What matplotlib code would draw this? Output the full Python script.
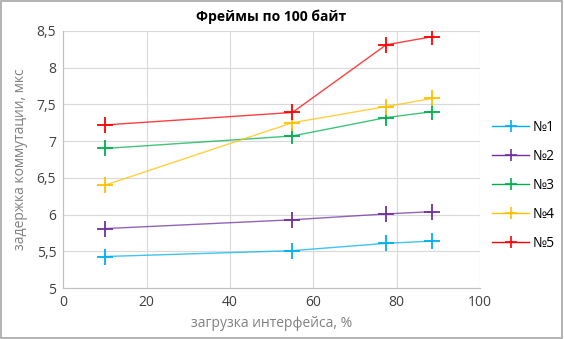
import matplotlib.pyplot as plt
from matplotlib.patches import Rectangle

plt.rcParams['font.family'] = ['Open Sans', 'DejaVu Sans']

load = [10, 55, 77.5, 88.5]
series_names = ['№1', '№2', '№3', '№4', '№5']
delay_1 = [5.43, 5.51, 5.61, 5.64]
delay_2 = [5.81, 5.93, 6.01, 6.04]
delay_3 = [6.90, 7.07, 7.32, 7.40]
delay_4 = [6.40, 7.25, 7.47, 7.58]
delay_5 = [7.22, 7.39, 8.31, 8.42]
colors = ['#00B0F0', '#7030A0', '#00B050', '#FFC000', '#FF0000']

fig = plt.figure(figsize=(5.64, 3.39), dpi=100)
ax = fig.add_axes([0.112, 0.150, 0.739, 0.759])

for name, vals, c in zip(series_names, [delay_1, delay_2, delay_3, delay_4, delay_5], colors):
    ax.plot(load, vals, color=c, alpha=0.75, lw=1.0)
    ax.plot(load, vals, ls='none', marker='+', ms=11, mew=1.3, color=c)
    # legend proxy
    ax.plot([], [], color=c, lw=1.0, marker='+', ms=9, mew=1.2, label=name)

ax.set_xlim(0, 100)
ax.set_ylim(5, 8.5)
ax.set_xticks([0, 20, 40, 60, 80, 100])
ax.set_yticks([5, 5.5, 6, 6.5, 7, 7.5, 8, 8.5])
ax.set_yticklabels(['5', '5,5', '6', '6,5', '7', '7,5', '8', '8,5'])
ax.grid(True, color='#D9D9D9', lw=0.8)
ax.set_axisbelow(True)
for s in ['top', 'right']:
    ax.spines[s].set_visible(False)
for s in ['left', 'bottom']:
    ax.spines[s].set_color('#BFBFBF')
ax.tick_params(length=0, labelsize=10, colors='#404040', pad=5)

ax.set_title('Фреймы по 100 байт', fontsize=10, fontweight='bold', pad=7)
ax.set_xlabel('загрузка интерфейса, %', fontsize=10, color='#808080', labelpad=4)
ax.set_ylabel('задержка коммутации, мкс', fontsize=10, color='#808080', labelpad=6)

ax.legend(loc='center left', bbox_to_anchor=(1.0, 0.40), frameon=False,
          fontsize=10, labelspacing=1.0, handlelength=2.6, handletextpad=0.3)

fig.patches.append(Rectangle((0.002, 0.003), 0.995, 0.993, transform=fig.transFigure,
                             fill=False, edgecolor='#A6A6A6', lw=1.2))

fig.savefig('out.png', dpi=100)
